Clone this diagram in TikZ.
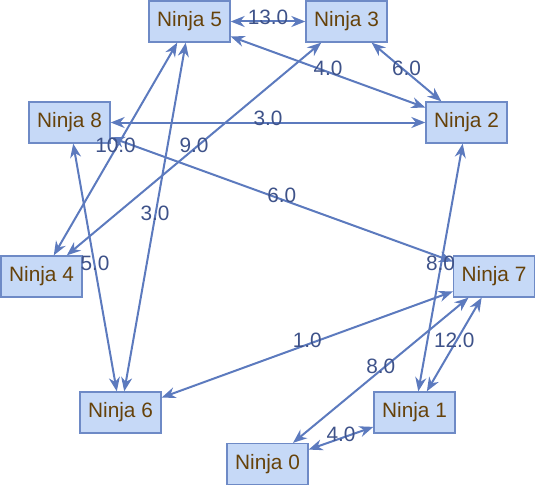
\documentclass[tikz,border=0pt]{standalone}
\usepackage{fontspec}
\setmainfont{Liberation Sans}
\usetikzlibrary{arrows.meta}
\definecolor{boxfill}{RGB}{198,217,247}
\definecolor{boxline}{RGB}{110,138,198}
\definecolor{edgecol}{RGB}{92,122,190}
\definecolor{txtcol}{RGB}{102,66,10}
\definecolor{labcol}{RGB}{62,82,137}
\tikzset{
  ninja/.style={draw=boxline, fill=boxfill, line width=1.3pt, minimum width=81pt, minimum height=41pt, inner sep=0pt, text=txtcol, font=\fontsize{20.8}{23}\selectfont},
  link/.style={draw=edgecol, line width=2pt, {Stealth[length=14pt,width=11pt,inset=4.5pt]}-{Stealth[length=14pt,width=11pt,inset=4.5pt]}},
  wlab/.style={text=labcol, font=\fontsize{20.8}{23}\selectfont, inner sep=0pt, yshift=4pt}
}
\begin{document}
\begin{tikzpicture}[x=1pt,y=-1pt]
\useasboundingbox (0,0) rectangle (535,487);
\node[ninja] (n5) at (189.5,21.5) {Ninja 5};
\node[ninja] (n3) at (346.5,21.5) {Ninja 3};
\node[ninja] (n2) at (466.5,122.5) {Ninja 2};
\node[ninja] (n8) at (69.5,122.5) {Ninja 8};
\node[ninja] (n4) at (41.5,276.5) {Ninja 4};
\node[ninja] (n7) at (494,276.5) {Ninja 7};
\node[ninja] (n6) at (120.5,412.5) {Ninja 6};
\node[ninja] (n1) at (414.5,412.5) {Ninja 1};
\node[ninja] (n0) at (267.5,464) {Ninja 0};
\draw[link] (n5) -- node[wlab]{13.0} (n3);
\draw[link] (n3) -- node[wlab]{6.0} (n2);
\draw[link] (n5) -- node[wlab]{4.0} (n2);
\draw[link] (n8) -- node[wlab]{3.0} (n2);
\draw[link] (n8) -- node[wlab]{6.0} (n7);
\draw[link] (n5) -- node[wlab]{10.0} (n4);
\draw[link] (n3) -- node[wlab]{9.0} (n4);
\draw[link] (n5) -- node[wlab]{3.0} (n6);
\draw[link] (n8) -- node[wlab]{5.0} (n6);
\draw[link] (n7) -- node[wlab]{1.0} (n6);
\draw[link] (n2) -- node[wlab]{8.0} (n1);
\draw[link] (n7) -- node[wlab]{12.0} (n1);
\draw[link] (n7) -- node[wlab]{8.0} (n0);
\draw[link] (n0) -- node[wlab]{4.0} (n1);
\end{tikzpicture}
\end{document}
